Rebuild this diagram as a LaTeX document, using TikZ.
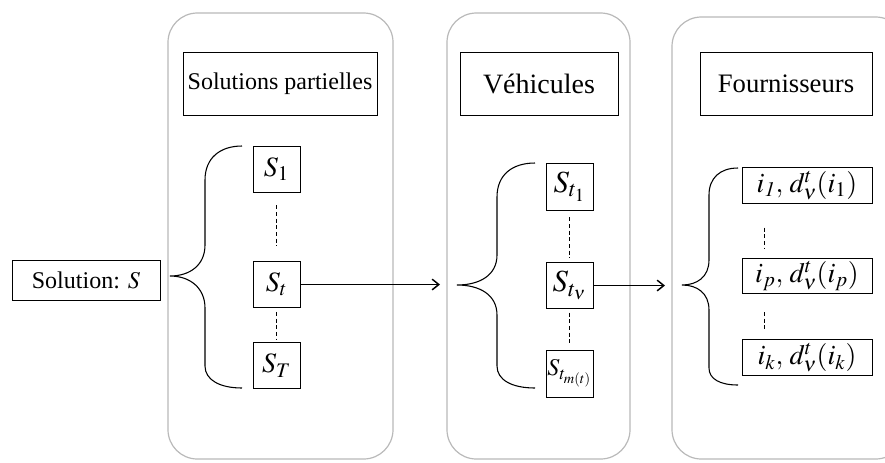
\documentclass[tikz,border=0pt]{standalone}
\usepackage{mathptmx}
\usepackage[no-math]{fontspec}
\setmainfont{Liberation Serif}
\usetikzlibrary{arrows.meta,calc}

\tikzset{
  panel/.style={draw=gray!55, line width=0.9pt, rounded corners=22pt},
  titlebox/.style={draw, line width=0.6pt, inner sep=0pt, minimum height=47.25pt},
  elem/.style={draw, line width=0.6pt, inner sep=0pt, minimum width=35.25pt, minimum height=34.5pt},
  supbox/.style={draw, line width=0.6pt, inner sep=0pt, minimum width=97.5pt, minimum height=26.5pt},
  brace/.style={line width=0.8pt},
  dots/.style={line width=0.6pt, dash pattern=on 3pt off 2pt},
  link/.style={line width=0.9pt, -{Straight Barb[length=5pt,width=8pt,line width=1.1pt]}}
}

\begin{document}
\begin{tikzpicture}[x=0.75pt,y=0.75pt,yscale=-1,xscale=1]
\useasboundingbox (0,0) rectangle (885,462);

%Shape: Rounded Rect
\draw [panel] (168,13) rectangle (393,459);
\draw [panel] (447,13) rectangle (630,459);
\draw [panel] (672,17) rectangle (905,459);

% Titles
\node [titlebox, minimum width=145.5pt, font=\fontsize{18}{20}\selectfont] (partielles) at (280,83.5) {Solutions partielles};
\node [titlebox, minimum width=118.5pt, font=\fontsize{21}{24}\selectfont] (vehicules) at (539,83.5) {Véhicules};
\node [titlebox, minimum width=129pt, font=\fontsize{20}{23}\selectfont] (fournisseurs) at (786,83.5) {Fournisseurs};

% Solution
\node [draw, line width=0.6pt, inner sep=0pt, minimum width=111pt, minimum height=30pt, font=\fontsize{18}{20}\selectfont] (sol) at (86,280) {Solution: $S$};

% Solutions partielles
\node [elem, font=\fontsize{21}{23}\selectfont] (s1) at (276.5,169) {$S_1$};
\node [elem, font=\fontsize{21}{23}\selectfont] (st) at (276.5,284.5) {$S_t$};
\node [elem, font=\fontsize{21}{23}\selectfont] (sT) at (276.5,365.5) {$S_T$};

% Vehicules
\node [elem, minimum height=35.25pt, font=\fontsize{23}{25}\selectfont] (st1) at (569.5,186.5) {$S_{t_1}$};
\node [elem, minimum height=34pt, font=\fontsize{23}{25}\selectfont] (stv) at (569.5,285.5) {$S_{t_\nu}$};
\node [elem, minimum height=35.25pt, font=\fontsize{18}{20}\selectfont] (stm) at (569.5,373.5) {$S_{t_{m(t)}}$};

% Fournisseurs
\node [supbox, font=\fontsize{21}{23}\selectfont] (f1) at (807,185.5) {$i_{\mathit{1}},\, d_\nu^t(i_1)$};
\node [supbox, font=\fontsize{21}{23}\selectfont] (fp) at (807,276) {$i_p,\, d_\nu^t(i_p)$};
\node [supbox, font=\fontsize{21}{23}\selectfont] (fk) at (807,357.5) {$i_k,\, d_\nu^t(i_k)$};

%Shape: Brace
\draw [brace] (242,146) .. controls (220,146) and (205,158) .. (205,180) -- (205,245) .. controls (205,265) and (190,276) .. (170,276) .. controls (190,276) and (205,288) .. (205,308) -- (205,366) .. controls (205,380) and (220,388) .. (242,388);
\draw [brace] (535,163) .. controls (512,163) and (497,175) .. (497,197) -- (497,255) .. controls (497,275) and (480,285) .. (457,285) .. controls (480,285) and (497,295) .. (497,315) -- (497,366) .. controls (497,380) and (512,388) .. (535,388);
\draw [brace] (738,168) .. controls (720,168) and (709,178) .. (709,195) -- (709,260) .. controls (709,277) and (697,285) .. (682,285) .. controls (697,285) and (709,293) .. (709,310) -- (709,368) .. controls (709,379) and (720,385) .. (738,385);

%Dashed Lines
\draw [dots, shorten <=9.75pt, shorten >=11.25pt] (s1) -- (st);
\draw [dots, shorten <=3pt, shorten >=2.25pt] (st) -- (sT);
\draw [dots, shorten <=5.25pt, shorten >=3.75pt] (st1) -- (stv);
\draw [dots, shorten <=3pt, shorten >=5.25pt] (stv) -- (stm);
\draw [dots] ($(f1.south west)+(23,24)$) -- ($(fp.north west)+(23,-10)$);
\draw [dots] ($(fp.south west)+(23,18)$) -- ($(fk.north west)+(23,-8)$);

%Arrows
\coordinate (a1) at (440,284.5);
\coordinate (a2) at (665,285.5);
\draw [link] (st.east) -- (a1);
\draw [link] (stv.east) -- (a2);

\end{tikzpicture}
\end{document}
